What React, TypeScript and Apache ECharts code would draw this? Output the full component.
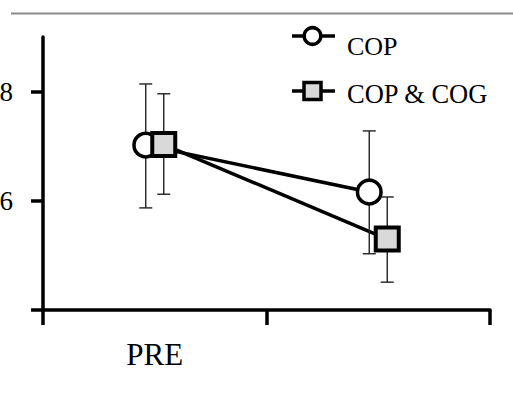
import React, { useEffect, useRef } from "react";
import * as echarts from "echarts";

const categories = ["PRE", ""];
const copMean = [7.02, 6.16];
const copHigh = [8.14, 7.28];
const copLow = [5.87, 5.03];
const cogMean = [7.03, 5.3];
const cogHigh = [7.96, 6.07];
const cogLow = [6.12, 4.51];
const yTicks = [4, 6, 8];
const yLabels = [6, 8];

const SERIF = "'Liberation Serif', 'Times New Roman', serif";

function buildData(mean: number[], high: number[], low: number[]) {
  return mean.map((m, i) => [i, m, high[i], low[i]]);
}

function lineSeries(name: string, mean: number[], dx: number) {
  return {
    type: "custom",
    name: name + "-line",
    z: 1,
    silent: true,
    data: mean.map((m, i) => [i, m]),
    renderItem: (params: any, api: any) => {
      const i = params.dataIndex;
      if (i >= mean.length - 1) return { type: "group", children: [] };
      const p0 = api.coord([i, mean[i]]);
      const p1 = api.coord([i + 1, mean[i + 1]]);
      return {
        type: "line",
        shape: { x1: p0[0] + dx, y1: p0[1], x2: p1[0] + dx, y2: p1[1] },
        style: { stroke: "#000", lineWidth: 3.5 },
      };
    },
  };
}

function markerSeries(name: string, data: number[][], dx: number, square: boolean, z: number) {
  return {
    type: "custom",
    name,
    z,
    silent: true,
    data,
    encode: { x: 0, y: 1 },
    renderItem: (params: any, api: any) => {
      const x = api.value(0);
      const c = api.coord([x, api.value(1)]);
      const h = api.coord([x, api.value(2)]);
      const l = api.coord([x, api.value(3)]);
      const cx = c[0] + dx;
      const bar = { stroke: "#222", lineWidth: 1.4 };
      const cap = 6.5;
      const children: any[] = [
        { type: "line", shape: { x1: cx, y1: h[1], x2: cx, y2: l[1] }, style: bar },
        { type: "line", shape: { x1: cx - cap, y1: h[1], x2: cx + cap, y2: h[1] }, style: bar },
        { type: "line", shape: { x1: cx - cap, y1: l[1], x2: cx + cap, y2: l[1] }, style: bar },
      ];
      if (square) {
        children.push({
          type: "rect",
          shape: { x: cx - 11.5, y: c[1] - 11.5, width: 23, height: 23 },
          style: { fill: "#d9d9d9", stroke: "#000", lineWidth: 4 },
        });
      } else {
        children.push({
          type: "circle",
          shape: { cx, cy: c[1], r: 11.8 },
          style: { fill: "#fff", stroke: "#000", lineWidth: 3.5 },
        });
      }
      return { type: "group", children };
    },
  };
}

export default function App() {
  const ref = useRef<HTMLDivElement>(null);
  useEffect(() => {
    if (!ref.current) return;
    const chart = echarts.init(ref.current, null, { renderer: "svg" });
    chart.setOption({
      animation: false,
      backgroundColor: "#fff",
      grid: { left: 43, right: 23, top: 37, bottom: 87, containLabel: false, outerBoundsMode: "none" },
      xAxis: {
        type: "category",
        data: categories,
        boundaryGap: true,
        axisLine: { lineStyle: { color: "#000", width: 3.5 } },
        axisTick: { show: true, interval: 0, length: 15, lineStyle: { color: "#000", width: 3.5 } },
        axisLabel: { interval: 0, margin: 29, color: "#000", fontFamily: SERIF, fontSize: 31 },
        splitLine: { show: false },
      },
      yAxis: {
        type: "value",
        min: 4,
        max: 9,
        interval: 2,
        axisLine: { show: true, lineStyle: { color: "#000", width: 3.5 } },
        axisTick: { show: true, length: 12, customValues: yTicks, lineStyle: { color: "#000", width: 3.5 } },
        axisLabel: { margin: 30, color: "#000", fontFamily: SERIF, fontSize: 27, customValues: yLabels },
        splitLine: { show: false },
      },
      graphic: [
        { type: "line", shape: { x1: 11, y1: 13.5, x2: 513, y2: 13.5 }, style: { stroke: "#8a8a8a", lineWidth: 2 } },
        { type: "line", shape: { x1: 292, y1: 36, x2: 335, y2: 36 }, style: { stroke: "#000", lineWidth: 3.5 } },
        { type: "circle", shape: { cx: 312.5, cy: 36, r: 8.3 }, style: { fill: "#fff", stroke: "#000", lineWidth: 3.5 } },
        { type: "text", x: 347, y: 46, style: { text: "COP", fill: "#000", font: "26px " + SERIF, verticalAlign: "middle" } },
        { type: "line", shape: { x1: 292, y1: 91, x2: 335, y2: 91 }, style: { stroke: "#000", lineWidth: 3.5 } },
        { type: "rect", shape: { x: 304, y: 82.5, width: 17, height: 17 }, style: { fill: "#d9d9d9", stroke: "#000", lineWidth: 3.5 } },
        { type: "text", x: 347, y: 94, style: { text: "COP & COG", fill: "#000", font: "26.5px " + SERIF, verticalAlign: "middle" } },
      ],
      series: [
        lineSeries("COP", copMean, -9),
        lineSeries("COP & COG", cogMean, 9),
        markerSeries("COP", buildData(copMean, copHigh, copLow), -9, false, 2),
        markerSeries("COP & COG", buildData(cogMean, cogHigh, cogLow), 9, true, 3),
      ],
    });
    return () => chart.dispose();
  }, []);
  return <div ref={ref} style={{ width: 513, height: 397, position: "absolute", left: 0, top: 0 }} />;
}
